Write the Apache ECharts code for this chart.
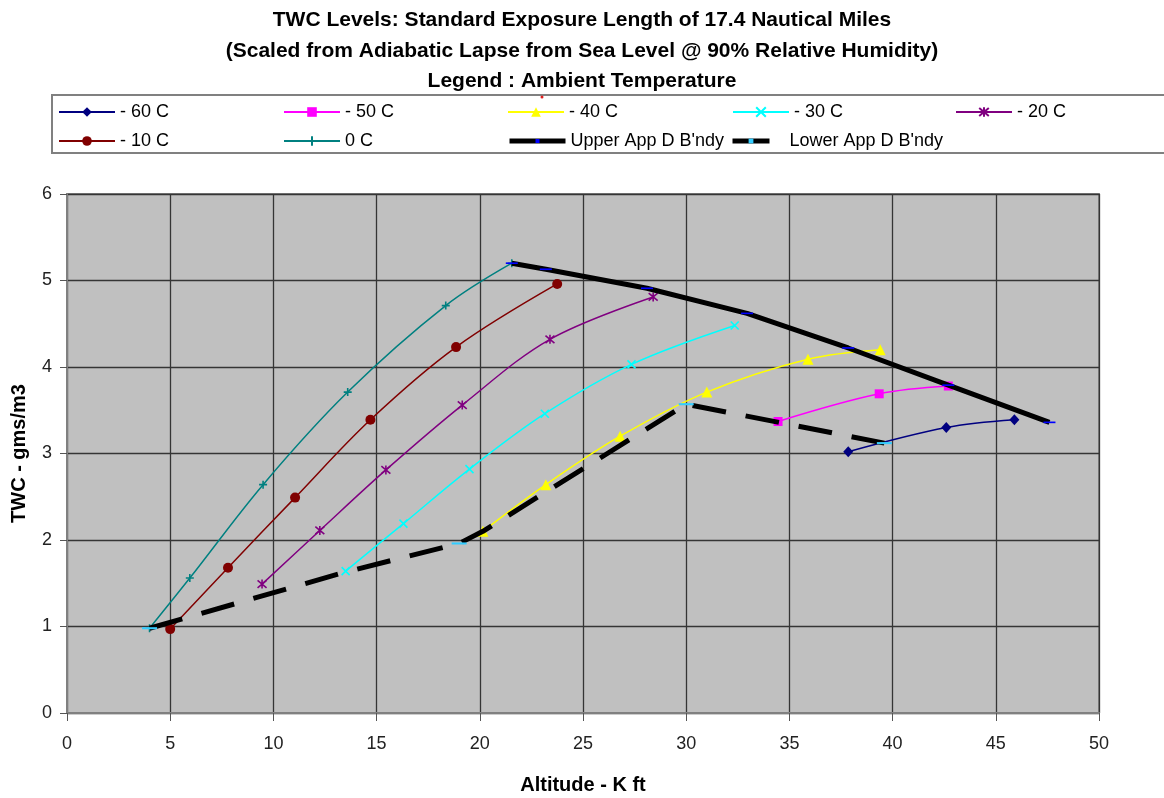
<!DOCTYPE html>
<html>
<head>
<meta charset="utf-8">
<title>TWC Levels</title>
<script src="https://cdn.jsdelivr.net/npm/echarts@6.0.0/dist/echarts.min.js"></script>
<style>
  html, body { margin: 0; padding: 0; background: #fff; }
  #main { width: 1164px; height: 798px; }
</style>
</head>
<body>
<div id="main"></div>
<script>
// [altitude K ft, TWC g/m3]
var minus60 = [[37.85, 3.02], [42.6, 3.30], [45.9, 3.39]];
var minus50 = [[34.45, 3.37], [39.35, 3.69], [42.7, 3.78]];
var minus40 = [[20.15, 2.10], [23.2, 2.64], [26.8, 3.20], [31.0, 3.71], [35.9, 4.09], [39.4, 4.20]];
var minus30 = [[13.5, 1.64], [16.3, 2.19], [19.5, 2.82], [23.15, 3.46], [27.35, 4.03], [32.35, 4.48]];
var minus20 = [[9.45, 1.49], [12.25, 2.11], [15.45, 2.81], [19.15, 3.56], [23.4, 4.32], [28.4, 4.81]];
var minus10 = [[5.0, 0.97], [7.8, 1.68], [11.05, 2.49], [14.7, 3.39], [18.85, 4.23], [23.75, 4.96]];
var zeroC = [[4.0, 0.98], [5.95, 1.56], [9.5, 2.64], [13.6, 3.71], [18.35, 4.71], [21.55, 5.20]];
var upperBndy = [[21.55, 5.20], [23.2, 5.13], [28.1, 4.91], [32.95, 4.62], [37.85, 4.22], [42.7, 3.79], [47.6, 3.36]];
var lowerBndy = [[4.0, 0.98], [13.5, 1.63], [19.0, 1.96], [20.15, 2.10], [30.0, 3.57], [39.6, 3.12]];
// which lower-boundary points show their cyan marker (others hidden under the temperature markers)
var lowerMarked = [true, false, true, false, true, true];

var xTicks = [0, 50, 5];   // min, max, step
var yTicks = [0, 6, 1];

var FONT = 'Liberation Sans';
var X_PATH = 'path://M0,0L10,10M10,0L0,10';
var STAR_PATH = 'path://M0,0L10,10M10,0L0,10M5,-1L5,11';
var PLUS_PATH = 'path://M5,0L5,10M0,5L10,5';
var DASH_PATH = 'path://M0,0L12,0L12,5L0,5Z';

function tempSeries(name, data, color, symbol, size, stroked) {
  return {
    name: name,
    type: 'line',
    data: data,
    smooth: 0.35,
    symbol: symbol,
    symbolSize: size,
    lineStyle: { color: color, width: 1.5 },
    itemStyle: stroked
      ? { color: color, borderColor: color, borderWidth: 1.6 }
      : { color: color, borderWidth: 0 },
    z: 2
  };
}

function mkLegend(name, left, top, w, extra) {
  var l = {
    data: [name],
    left: left,
    top: top,
    padding: 0,
    itemWidth: w,
    itemHeight: 12,
    selectedMode: false,
    textStyle: { fontFamily: FONT, fontSize: 18, color: '#000' }
  };
  for (var k in extra) l[k] = extra[k];
  return l;
}

var lowerData = lowerBndy.map(function (p, i) {
  return lowerMarked[i] ? { value: p } : { value: p, symbol: 'none' };
});

var myChart = echarts.init(document.getElementById('main'));

var option = {
  animation: false,
  backgroundColor: '#fff',
  title: {
    text: 'TWC Levels: Standard Exposure Length of 17.4 Nautical Miles\n(Scaled from Adiabatic Lapse from Sea Level @ 90% Relative Humidity)\nLegend : Ambient Temperature',
    left: 'center',
    top: 5,
    padding: [0, 0, 0, 24],
    textStyle: { fontFamily: FONT, fontSize: 21, fontWeight: 'bold', color: '#000', lineHeight: 30.5 }
  },
  legend: [
    mkLegend('- 60 C', 58, 103, 56),
    mkLegend('- 50 C', 283, 103, 56),
    mkLegend('- 40 C', 507, 103, 56),
    mkLegend('- 30 C', 732, 103, 56),
    mkLegend('- 20 C', 955, 103, 56),
    mkLegend('- 10 C', 58, 132, 56),
    mkLegend('0 C', 283, 132, 56),
    mkLegend("Upper App D B'ndy", 507, 132, 56, {
      itemHeight: 5,
      lineStyle: { width: 5 }
    }),
    mkLegend("Lower App D B'ndy", 730, 132, 37, {
      itemHeight: 6,
      lineStyle: { type: [200, 1], width: 5 },
      formatter: function (n) { return '   ' + n; }
    })
  ],
  graphic: [
    { type: 'rect', shape: { x: 52, y: 95, width: 1120, height: 58 },
      style: { fill: 'none', stroke: '#808080', lineWidth: 2 }, z: -1 },
    { type: 'circle', shape: { cx: 542, cy: 97, r: 1.5 }, style: { fill: '#e02020' } }
  ],
  grid: {
    left: 67, right: 65, top: 194, bottom: 85,
    outerBoundsMode: 'none',
    containLabel: false,
    show: true,
    backgroundColor: '#C0C0C0',
    borderColor: '#808080',
    borderWidth: 2
  },
  xAxis: {
    type: 'value',
    min: xTicks[0], max: xTicks[1], interval: xTicks[2],
    name: 'Altitude - K ft',
    nameLocation: 'middle',
    nameGap: 62,
    nameTextStyle: { fontFamily: FONT, fontSize: 20, fontWeight: 'bold', color: '#000' },
    axisLine: { show: true, lineStyle: { color: '#808080', width: 2 } },
    axisTick: { show: true, length: 8, lineStyle: { color: '#555' } },
    axisLabel: { fontFamily: FONT, fontSize: 18, color: '#222', margin: 22 },
    splitLine: { show: true, lineStyle: { color: '#353535', width: 1.3 } }
  },
  yAxis: {
    type: 'value',
    min: yTicks[0], max: yTicks[1], interval: yTicks[2],
    name: 'TWC - gms/m3',
    nameLocation: 'middle',
    nameGap: 38,
    nameTextStyle: { fontFamily: FONT, fontSize: 20, fontWeight: 'bold', color: '#000' },
    axisLine: { show: true, lineStyle: { color: '#808080', width: 2 } },
    axisTick: { show: true, length: 7, lineStyle: { color: '#555' } },
    axisLabel: { fontFamily: FONT, fontSize: 18, color: '#222', margin: 15 },
    splitLine: { show: true, lineStyle: { color: '#353535', width: 1.3 } }
  },
  series: [
    tempSeries('- 60 C', minus60, '#000080', 'diamond', [10, 11], false),
    tempSeries('- 50 C', minus50, '#FF00FF', 'rect', 9, false),
    tempSeries('- 40 C', minus40, '#FFFF00', 'triangle', 11, false),
    tempSeries('- 30 C', minus30, '#00FFFF', X_PATH, 8, true),
    tempSeries('- 20 C', minus20, '#800080', STAR_PATH, 9, true),
    tempSeries('- 10 C', minus10, '#800000', 'circle', 10, false),
    tempSeries('0 C', zeroC, '#008080', PLUS_PATH, 8, true),
    {
      name: "Upper App D B'ndy",
      type: 'line',
      data: upperBndy,
      symbol: DASH_PATH,
      symbolSize: [12, 4],
      symbolKeepAspect: true,
      lineStyle: { color: '#000', width: 5 },
      itemStyle: { color: '#0000FF', borderWidth: 0 },
      z: 3
    },
    {
      name: "Lower App D B'ndy",
      type: 'line',
      data: lowerData,
      symbol: DASH_PATH,
      symbolSize: [15, 5],
      symbolKeepAspect: true,
      lineStyle: { color: '#000', width: 5, type: [34, 20] },
      itemStyle: { color: '#33CCFF', borderWidth: 0 },
      z: 3
    }
  ]
};

myChart.setOption(option);
</script>
</body>
</html>
